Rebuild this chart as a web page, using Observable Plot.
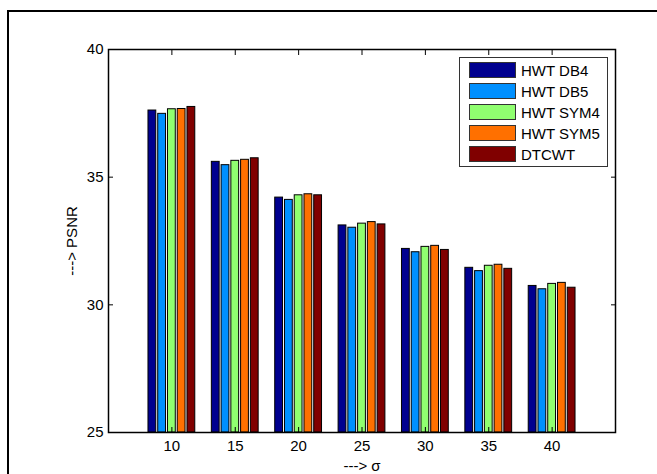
<!DOCTYPE html>
<html>
<head>
<meta charset="utf-8">
<script src="https://cdn.jsdelivr.net/npm/d3@7"></script>
<script src="https://cdn.jsdelivr.net/npm/@observablehq/plot@0.6"></script>
<style>
  html, body { margin: 0; padding: 0; background: #fff; }
  #wrap { position: relative; width: 657px; height: 474px; overflow: hidden; font-family: "Liberation Sans", Arial, sans-serif; }
  #border { position: absolute; left: 7px; top: 10px; right: 0; bottom: -5px; border-top: 2px solid #000; border-left: 2px solid #000; pointer-events: none; }
  #chart { position: absolute; left: 0; top: 0; }
  #legend { position: absolute; left: 459px; top: 57px; width: 147px; height: 108px; border: 1.5px solid #333; background: #fff; }
  .row { position: absolute; left: 9px; height: 16px; display: flex; align-items: center; }
  .sw { width: 45px; height: 14px; border: 1px solid #333; }
  .lab { margin-left: 5px; font-size: 15px; color: #000; white-space: nowrap; }
</style>
</head>
<body>
<div id="wrap">
  <div id="chart"></div>
  <div id="legend"></div>
  <div id="border"></div>
</div>
<script>
const sigma = [10, 15, 20, 25, 30, 35, 40];
const seriesNames = ["HWT DB4", "HWT DB5", "HWT SYM4", "HWT SYM5", "DTCWT"];
const seriesColors = ["#00008f", "#0090ff", "#90ff70", "#ff7000", "#800000"];
const db4   = [37.61, 35.60, 34.20, 33.11, 32.19, 31.45, 30.74];
const db5   = [37.48, 35.47, 34.11, 33.02, 32.06, 31.32, 30.61];
const sym4  = [37.66, 35.64, 34.29, 33.18, 32.27, 31.53, 30.82];
const sym5  = [37.67, 35.68, 34.33, 33.24, 32.31, 31.57, 30.86];
const dtcwt = [37.75, 35.74, 34.29, 33.15, 32.15, 31.41, 30.67];
const yTicks = [25, 30, 35, 40];

const seriesValues = [db4, db5, sym4, sym5, dtcwt];
// MATLAB grouped bar geometry (in sigma units, category step = 5)
const step = 5;
const groupWidth = Math.min(0.8, 5 / (5 + 1.5)) * step;
const pitch = groupWidth / 5;
const barW = pitch * 0.8;

const rows = [];
seriesValues.forEach((vals, j) => {
  vals.forEach((v, i) => {
    const c = sigma[i] + (j - 2) * pitch;
    rows.push({sigma: sigma[i], series: seriesNames[j], value: v, x1: c - barW / 2, x2: c + barW / 2});
  });
});

const font = "15px";
const plot = Plot.plot({
  width: 657,
  height: 474,
  marginLeft: 108,
  marginRight: 42,
  marginTop: 49,
  marginBottom: 42,
  style: {fontFamily: "Liberation Sans, Arial, sans-serif", fontSize: font, background: "transparent", color: "#000"},
  x: {domain: [5, 45]},
  y: {domain: [25, 40]},
  color: {domain: seriesNames, range: seriesColors},
  marks: [
    Plot.rectY(rows, {x1: "x1", x2: "x2", y1: 25, y2: "value", fill: "series", stroke: "#000", strokeWidth: 1}),
    Plot.frame({stroke: "#000", strokeWidth: 1.5}),
    Plot.axisX(sigma, {anchor: "bottom", tickSize: -5, tickPadding: 13, label: "---> σ", labelAnchor: "center", labelArrow: "none", labelOffset: 38, fontSize: 15}),
    Plot.axisX(sigma, {anchor: "top", tickSize: -5, tickFormat: () => "", label: null}),
    Plot.axisY(yTicks, {anchor: "left", tickSize: -5, tickPadding: 10, label: "---> PSNR", labelAnchor: "center", labelArrow: "none", labelOffset: 42, fontSize: 15}),
    Plot.axisY(yTicks, {anchor: "right", tickSize: -5, tickFormat: () => "", label: null})
  ]
});
document.getElementById("chart").appendChild(plot);

const legend = document.getElementById("legend");
seriesNames.forEach((name, j) => {
  const row = document.createElement("div");
  row.className = "row";
  row.style.top = (4 + 21 * j) + "px";
  const sw = document.createElement("div");
  sw.className = "sw";
  sw.style.background = seriesColors[j];
  const lab = document.createElement("span");
  lab.className = "lab";
  lab.textContent = name;
  row.appendChild(sw);
  row.appendChild(lab);
  legend.appendChild(row);
});
</script>
</body>
</html>
